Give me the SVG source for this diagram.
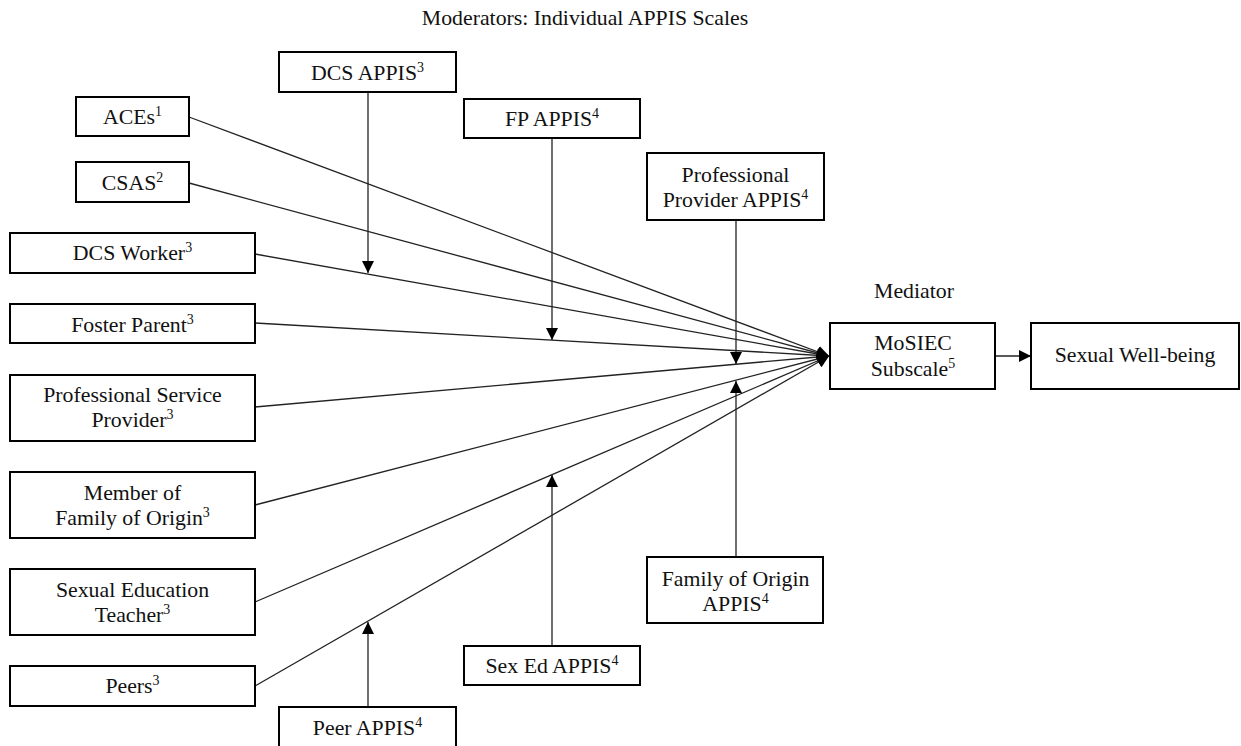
<svg xmlns="http://www.w3.org/2000/svg" width="1241" height="746" viewBox="0 0 1241 746">
<defs>
<marker id="arr" markerUnits="userSpaceOnUse" markerWidth="13" markerHeight="13" refX="12" refY="6" orient="auto">
<path d="M0,0 L12,6 L0,12 z" fill="#000"/>
</marker>
<style>
rect.box{fill:#fff;stroke:#000;stroke-width:2}
text{font-family:"Liberation Serif","Times New Roman",serif;font-size:21.8px;fill:#111;text-anchor:middle}
tspan.sup{font-size:14px}
.conn line{stroke:#222;stroke-width:1.3;fill:none}
</style>
</defs>
<rect width="1241" height="746" fill="#fff"/>
<text x="585" y="25">Moderators: Individual APPIS Scales</text>
<text x="914" y="298">Mediator</text>
<g class="conn">
<line x1="189" y1="117" x2="829" y2="356" marker-end="url(#arr)"/>
<line x1="189" y1="183" x2="829" y2="356" marker-end="url(#arr)"/>
<line x1="255" y1="254" x2="829" y2="356" marker-end="url(#arr)"/>
<line x1="255" y1="323" x2="829" y2="356" marker-end="url(#arr)"/>
<line x1="255" y1="407" x2="829" y2="356" marker-end="url(#arr)"/>
<line x1="255" y1="505" x2="829" y2="356" marker-end="url(#arr)"/>
<line x1="255" y1="602" x2="829" y2="356" marker-end="url(#arr)"/>
<line x1="255" y1="686" x2="829" y2="356" marker-end="url(#arr)"/>
<line x1="368" y1="92" x2="368" y2="273" marker-end="url(#arr)"/>
<line x1="552" y1="138" x2="552" y2="340" marker-end="url(#arr)"/>
<line x1="736" y1="220" x2="736" y2="364" marker-end="url(#arr)"/>
<line x1="736" y1="557" x2="736" y2="381" marker-end="url(#arr)"/>
<line x1="552" y1="646" x2="552" y2="475" marker-end="url(#arr)"/>
<line x1="368" y1="707" x2="368" y2="622" marker-end="url(#arr)"/>
<line x1="995" y1="356" x2="1031" y2="356" marker-end="url(#arr)"/>
</g>
<g id="aces"><rect class="box" x="76" y="97" width="113" height="39"/><text x="132.5" y="124">ACEs<tspan class="sup" dy="-8">1</tspan></text></g>
<g id="csas"><rect class="box" x="76" y="162" width="113" height="40"/><text x="132.5" y="190">CSAS<tspan class="sup" dy="-8">2</tspan></text></g>
<g id="dcs-worker"><rect class="box" x="10" y="233" width="245" height="40"/><text x="132.5" y="260">DCS Worker<tspan class="sup" dy="-8">3</tspan></text></g>
<g id="foster-parent"><rect class="box" x="10" y="304" width="245" height="39"/><text x="132.5" y="332">Foster Parent<tspan class="sup" dy="-8">3</tspan></text></g>
<g id="psp"><rect class="box" x="10" y="375" width="245" height="66"/><text x="132.5" y="402">Professional Service</text><text x="132.5" y="427">Provider<tspan class="sup" dy="-8">3</tspan></text></g>
<g id="member"><rect class="box" x="10" y="472" width="245" height="66"/><text x="132.5" y="500">Member of</text><text x="132.5" y="525">Family of Origin<tspan class="sup" dy="-8">3</tspan></text></g>
<g id="sex-ed-teacher"><rect class="box" x="10" y="569" width="245" height="66"/><text x="132.5" y="597">Sexual Education</text><text x="132.5" y="622">Teacher<tspan class="sup" dy="-8">3</tspan></text></g>
<g id="peers"><rect class="box" x="10" y="666" width="245" height="40"/><text x="132.5" y="693">Peers<tspan class="sup" dy="-8">3</tspan></text></g>
<g id="dcs-appis"><rect class="box" x="279" y="52" width="177" height="40"/><text x="367.5" y="80">DCS APPIS<tspan class="sup" dy="-8">3</tspan></text></g>
<g id="fp-appis"><rect class="box" x="464" y="99" width="176" height="39"/><text x="552" y="126">FP APPIS<tspan class="sup" dy="-8">4</tspan></text></g>
<g id="pp-appis"><rect class="box" x="647" y="153" width="177" height="67"/><text x="735.5" y="182">Professional</text><text x="735.5" y="207">Provider APPIS<tspan class="sup" dy="-8">4</tspan></text></g>
<g id="foo-appis"><rect class="box" x="647" y="557" width="176" height="66"/><text x="735.5" y="586">Family of Origin</text><text x="735.5" y="611">APPIS<tspan class="sup" dy="-8">4</tspan></text></g>
<g id="sexed-appis"><rect class="box" x="464" y="646" width="176" height="39"/><text x="552" y="673">Sex Ed APPIS<tspan class="sup" dy="-8">4</tspan></text></g>
<g id="peer-appis"><rect class="box" x="279" y="707" width="177" height="60"/><text x="367.5" y="735">Peer APPIS<tspan class="sup" dy="-8">4</tspan></text></g>
<g id="mosiec"><rect class="box" x="830" y="323" width="165" height="66"/><text x="913" y="350">MoSIEC</text><text x="913" y="376">Subscale<tspan class="sup" dy="-8">5</tspan></text></g>
<g id="wellbeing"><rect class="box" x="1031" y="323" width="208" height="66"/><text x="1135" y="362">Sexual Well-being</text></g>
</svg>
